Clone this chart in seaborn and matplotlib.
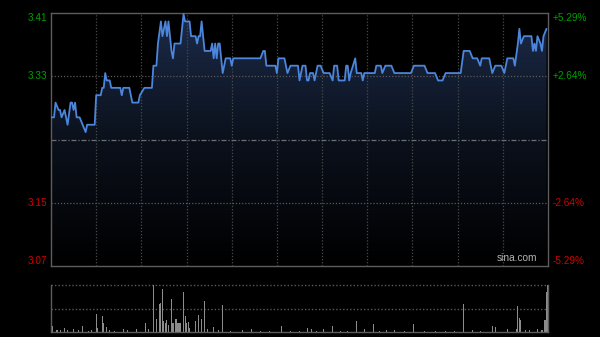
import numpy as np
import pandas as pd
import matplotlib
matplotlib.use("Agg")
import matplotlib.pyplot as plt
import seaborn as sns
from matplotlib.colors import LinearSegmentedColormap
from matplotlib.transforms import blended_transform_factory

# ---------------- data ----------------
minutes = [0, 2, 3, 5, 6, 7, 9, 11, 13, 14, 15, 16, 17, 19, 21, 23, 24, 28, 29, 30,
           33, 34, 35, 36, 37, 39, 40, 46, 47, 48, 52, 54, 58, 59, 62, 67, 68, 70, 71, 73,
           74, 76, 77, 78, 80, 81, 82, 86, 88, 89, 92, 93, 96, 97, 98, 99, 100, 102, 106, 107,
           108, 109, 110, 111, 112, 113, 114, 116, 119, 120, 121, 139, 141, 142, 143, 149, 150, 151, 155, 157,
           159, 164, 165, 167, 169, 170, 171, 172, 174, 175, 177, 179, 181, 185, 187, 188, 190, 191, 195, 196,
           197, 198, 199, 202, 203, 206, 207, 208, 215, 216, 219, 220, 222, 226, 228, 239, 241, 248, 250, 255,
           257, 260, 262, 272, 274, 278, 280, 283, 285, 286, 291, 293, 295, 299, 301, 303, 307, 308, 310, 311,
           312, 314, 319, 320, 321, 322, 323, 325, 326, 327, 329]
prices = [3.27, 3.27, 3.29, 3.28, 3.28, 3.27, 3.28, 3.26, 3.29, 3.29, 3.28, 3.29, 3.27, 3.27, 3.26, 3.25, 3.26, 3.26, 3.26, 3.30,
          3.30, 3.31, 3.31, 3.33, 3.32, 3.32, 3.31, 3.31, 3.30, 3.31, 3.31, 3.29, 3.29, 3.30, 3.31, 3.31, 3.34, 3.34, 3.37, 3.40,
          3.38, 3.40, 3.38, 3.40, 3.36, 3.35, 3.37, 3.37, 3.41, 3.40, 3.40, 3.38, 3.38, 3.37, 3.38, 3.38, 3.40, 3.36, 3.36, 3.37,
          3.35, 3.37, 3.35, 3.37, 3.37, 3.35, 3.33, 3.35, 3.35, 3.34, 3.35, 3.35, 3.36, 3.36, 3.34, 3.34, 3.33, 3.35, 3.35, 3.33,
          3.34, 3.34, 3.32, 3.34, 3.34, 3.32, 3.32, 3.33, 3.33, 3.32, 3.34, 3.34, 3.33, 3.33, 3.32, 3.34, 3.34, 3.32, 3.32, 3.34,
          3.34, 3.32, 3.33, 3.35, 3.33, 3.33, 3.32, 3.33, 3.33, 3.34, 3.34, 3.33, 3.34, 3.34, 3.33, 3.33, 3.34, 3.34, 3.33, 3.33,
          3.32, 3.32, 3.33, 3.33, 3.36, 3.36, 3.35, 3.35, 3.34, 3.35, 3.35, 3.33, 3.34, 3.34, 3.33, 3.35, 3.35, 3.34, 3.37, 3.39,
          3.37, 3.38, 3.38, 3.36, 3.37, 3.36, 3.38, 3.37, 3.36, 3.38, 3.39]

vol_minutes = [1, 4, 6, 9, 11, 15, 18, 21, 25, 27, 30, 31, 34, 35, 37, 39, 42, 48, 51, 57,
               63, 65, 68, 70, 72, 73, 74, 75, 76, 77, 78, 80, 81, 83, 84, 85, 86, 88, 89, 90,
               91, 92, 96, 98, 100, 102, 104, 108, 111, 114, 119, 127, 133, 139, 145, 153, 159, 165, 170, 173,
               176, 181, 187, 192, 197, 203, 208, 214, 218, 223, 228, 235, 241, 248, 255, 262, 268, 274, 280, 285,
               293, 295, 303, 309, 310, 311, 312, 315, 318, 323, 326, 328, 329, 330]
vol_values = [0.13, 0.04, 0.04, 0.08, 0.04, 0.07, 0.04, 0.13, 0.03, 0.04, 0.38, 0.08, 0.33, 0.19, 0.10, 0.04, 0.03, 0.07, 0.04, 0.07,
              0.20, 0.06, 1.00, 0.28, 0.60, 0.62, 0.91, 0.24, 0.20, 0.26, 0.15, 0.71, 0.20, 0.28, 0.20, 0.20, 0.20, 0.86, 0.33, 0.20,
              0.21, 0.08, 0.24, 0.37, 0.28, 0.66, 0.07, 0.10, 0.04, 0.58, 0.03, 0.04, 0.07, 0.03, 0.03, 0.12, 0.03, 0.03, 0.08, 0.07,
              0.03, 0.06, 0.12, 0.03, 0.03, 0.23, 0.07, 0.18, 0.03, 0.04, 0.05, 0.03, 0.18, 0.03, 0.03, 0.03, 0.03, 0.60, 0.05, 0.03,
              0.12, 0.11, 0.06, 0.07, 0.56, 0.30, 0.25, 0.04, 0.05, 0.07, 0.04, 0.25, 0.85, 1.00]

prev_close = 3.24
pct_levels = [5.29, 2.645, -2.645, -5.29]
left_labels = ["3.41", "3.33", "3.15", "3.07"]
right_labels = ["+5.29%", "+2.64%", "-2.64%", "-5.29%"]
session_minutes = 330

# ---------------- style ----------------
sns.set_style("dark", {"axes.facecolor": "black", "figure.facecolor": "black"})
plt.rcParams['font.family'] = ['Liberation Sans', 'DejaVu Sans']

W, H = 600, 337
fig = plt.figure(figsize=(6, 3.37), dpi=100, facecolor='black')
ax = fig.add_axes([51 / W, 1 - 266 / H, 497 / W, 253 / H])
vax = fig.add_axes([51 / W, 1 - 332 / H, 497 / W, 47 / H])

ylo = prev_close * (1 - 0.0529)
yhi = prev_close * (1 + 0.0529)

# gradient fill under the price line
cmap = LinearSegmentedColormap.from_list("fillgrad", ["#000000", "#0b111c", "#1c2b49"])
grad = np.linspace(0, 1, 256).reshape(-1, 1)
im = ax.imshow(grad, extent=[0, session_minutes, ylo, yhi], origin='lower',
               cmap=cmap, aspect='auto', zorder=1)
poly = ax.fill_between(minutes, prices, ylo, color='none', linewidth=0)
im.set_clip_path(poly.get_paths()[0], transform=ax.transData)

# grid
for m in range(30, session_minutes, 30):
    ax.axvline(m, color='#4a4a4a', linestyle=(0, (1, 1.5)), linewidth=0.9, zorder=2)
levels = [prev_close * (1 + p / 100) for p in pct_levels]
for lv in levels[1:3]:
    ax.axhline(lv, color='#5a5a5a', linestyle=(0, (1, 1.5)), linewidth=0.9, zorder=2)
ax.axhline(prev_close, color='#6e6e6e', linestyle=(0, (4, 1.5, 1, 1.5)), linewidth=0.9, zorder=2)

# price line
sns.lineplot(x=minutes, y=prices, ax=ax, color='#4b86dc', linewidth=1.3, zorder=3)

ax.set_xlim(0, session_minutes)
ax.set_ylim(ylo, yhi)
ax.set_xticks([])
ax.set_yticks([])
ax.set_xlabel("")
ax.set_ylabel("")
ax.grid(False)
for s in ax.spines.values():
    s.set_visible(True)
    s.set_color('#5c5c5c')
    s.set_linewidth(1.0)

# axis labels
trans = blended_transform_factory(ax.transAxes, ax.transData)
vas = ['top', 'center', 'center', 'bottom']
for lv, ll, rl, va in zip(levels, left_labels, right_labels, vas):
    col = '#00a000' if lv > prev_close else '#d00000'
    ax.text(-0.008, lv, ll, transform=trans, ha='right', va=va, color=col, fontsize=7.2)
    ax.text(1.01, lv, rl, transform=trans, ha='left', va=va, color=col, fontsize=7.2)

ax.text(0.978, 0.012, "sina.com", transform=ax.transAxes, ha='right', va='bottom',
        color='#b4b4b4', fontsize=7.3)

# volume
sns.barplot(x=vol_minutes, y=vol_values, native_scale=True, ax=vax, color='#8c8c8c',
            width=0.7, errorbar=None, saturation=1, linewidth=0)
vax.set_xlim(0, session_minutes)
vax.set_ylim(0, 1.0)
vax.set_xticks([])
vax.set_yticks([])
vax.set_xlabel("")
vax.set_ylabel("")
vax.grid(False)
vax.set_facecolor('black')
for side in ['left', 'right', 'bottom']:
    vax.spines[side].set_visible(True)
    vax.spines[side].set_color('#5c5c5c')
    vax.spines[side].set_linewidth(1.0)
vax.spines['top'].set_visible(False)
vax.axhline(1.0, color='#5a5a5a', linestyle=(0, (1, 1.5)), linewidth=1.0, zorder=0, clip_on=False)
vax.axhline(0.5, color='#5a5a5a', linestyle=(0, (1, 1.5)), linewidth=1.0, zorder=0)

fig.savefig("out.png", dpi=100, facecolor='black')
